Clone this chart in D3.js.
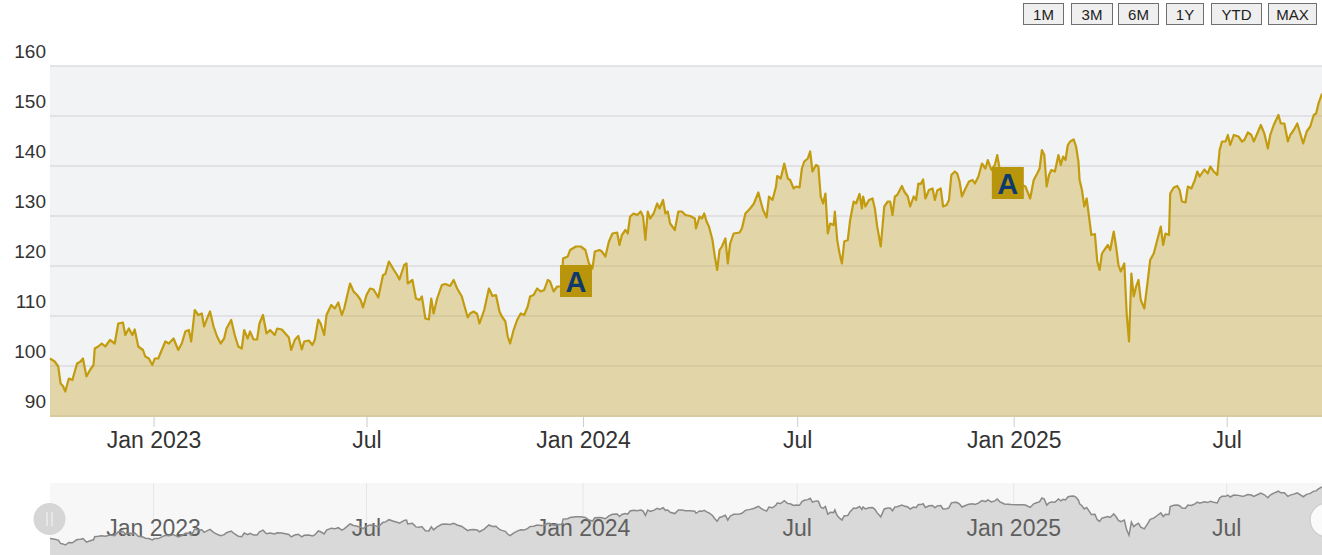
<!DOCTYPE html>
<html>
<head>
<meta charset="utf-8">
<script src="https://cdn.jsdelivr.net/npm/d3@7"></script>
<style>
  html, body { margin: 0; padding: 0; background: #fff; }
  svg { display: block; font-family: "Liberation Sans", Arial, sans-serif; }
</style>
</head>
<body>
<svg id="chart" width="1322" height="555"></svg>
<script>
// price series, one line per month
var dates = [
  "2022-10-05","2022-10-09","2022-10-12","2022-10-14","2022-10-16","2022-10-18","2022-10-21","2022-10-24","2022-10-28","2022-10-31",
  "2022-11-02","2022-11-05","2022-11-08","2022-11-11","2022-11-12","2022-11-15","2022-11-18","2022-11-21","2022-11-25","2022-11-29",
  "2022-12-02","2022-12-06","2022-12-08","2022-12-11","2022-12-14","2022-12-16","2022-12-19","2022-12-23","2022-12-25","2022-12-28","2022-12-31",
  "2023-01-02","2023-01-05","2023-01-08","2023-01-11","2023-01-14","2023-01-18","2023-01-22","2023-01-25","2023-01-28","2023-01-31",
  "2023-02-02","2023-02-05","2023-02-08","2023-02-11","2023-02-13","2023-02-15","2023-02-18","2023-02-21","2023-02-24","2023-02-27",
  "2023-03-02","2023-03-04","2023-03-08","2023-03-11","2023-03-14","2023-03-17","2023-03-19","2023-03-22","2023-03-24","2023-03-27","2023-03-30",
  "2023-04-01","2023-04-04","2023-04-07","2023-04-10","2023-04-14","2023-04-16","2023-04-20","2023-04-23","2023-04-26","2023-04-28",
  "2023-05-01","2023-05-04","2023-05-07","2023-05-09","2023-05-13","2023-05-16","2023-05-18","2023-05-21","2023-05-23","2023-05-26","2023-05-28",
  "2023-06-01","2023-06-04","2023-06-07","2023-06-10","2023-06-12","2023-06-15","2023-06-17","2023-06-20","2023-06-23","2023-06-26","2023-06-28",
  "2023-07-01","2023-07-04","2023-07-07","2023-07-11","2023-07-15","2023-07-17","2023-07-20","2023-07-24","2023-07-27","2023-07-29",
  "2023-08-02","2023-08-04","2023-08-05","2023-08-09","2023-08-12","2023-08-15","2023-08-17","2023-08-20","2023-08-23","2023-08-25","2023-08-27","2023-08-30",
  "2023-09-03","2023-09-06","2023-09-10","2023-09-13","2023-09-16","2023-09-20","2023-09-22","2023-09-25","2023-09-27","2023-09-30",
  "2023-10-03","2023-10-05","2023-10-09","2023-10-13","2023-10-16","2023-10-19","2023-10-22","2023-10-24","2023-10-27","2023-10-29","2023-10-31",
  "2023-11-03","2023-11-06","2023-11-09","2023-11-12","2023-11-15","2023-11-17","2023-11-20","2023-11-23","2023-11-26","2023-11-29",
  "2023-12-02","2023-12-04","2023-12-07","2023-12-10","2023-12-14","2023-12-15","2023-12-19","2023-12-21","2023-12-26","2023-12-30",
  "2024-01-03","2024-01-06","2024-01-09","2024-01-11","2024-01-15","2024-01-17","2024-01-20","2024-01-23","2024-01-26","2024-01-30",
  "2024-02-01","2024-02-03","2024-02-06","2024-02-08","2024-02-10","2024-02-13","2024-02-16","2024-02-19","2024-02-21","2024-02-23","2024-02-25","2024-02-27",
  "2024-03-01","2024-03-04","2024-03-06","2024-03-09","2024-03-11","2024-03-13","2024-03-15","2024-03-19","2024-03-22","2024-03-25","2024-03-28",
  "2024-04-01","2024-04-05","2024-04-06","2024-04-09","2024-04-11","2024-04-13","2024-04-15","2024-04-17","2024-04-20","2024-04-22","2024-04-24","2024-04-26","2024-04-28",
  "2024-05-01","2024-05-03","2024-05-05","2024-05-08","2024-05-13","2024-05-15","2024-05-18","2024-05-22","2024-05-25","2024-05-29","2024-05-31",
  "2024-06-02","2024-06-05","2024-06-07","2024-06-10","2024-06-13","2024-06-14","2024-06-17","2024-06-20","2024-06-23","2024-06-25","2024-06-28","2024-06-30",
  "2024-07-03","2024-07-05","2024-07-07","2024-07-10","2024-07-12","2024-07-14","2024-07-17","2024-07-19","2024-07-21","2024-07-23","2024-07-25","2024-07-27","2024-07-29",
  "2024-08-01","2024-08-02","2024-08-04","2024-08-06","2024-08-08","2024-08-10","2024-08-13","2024-08-15","2024-08-18","2024-08-20","2024-08-23","2024-08-25","2024-08-26","2024-08-28","2024-08-31",
  "2024-09-03","2024-09-05","2024-09-07","2024-09-10","2024-09-13","2024-09-16","2024-09-18","2024-09-20","2024-09-22","2024-09-24","2024-09-28","2024-09-30",
  "2024-10-03","2024-10-05","2024-10-08","2024-10-10","2024-10-12","2024-10-14","2024-10-16","2024-10-18","2024-10-21","2024-10-24","2024-10-26","2024-10-28","2024-10-31",
  "2024-11-02","2024-11-05","2024-11-07","2024-11-09","2024-11-12","2024-11-14","2024-11-16","2024-11-18","2024-11-21","2024-11-24","2024-11-27","2024-11-29",
  "2024-12-02","2024-12-05","2024-12-08","2024-12-10","2024-12-13","2024-12-16","2024-12-18","2024-12-20","2024-12-24","2024-12-30",
  "2025-01-08","2025-01-11","2025-01-15","2025-01-18","2025-01-21","2025-01-23","2025-01-25","2025-01-27","2025-01-29","2025-01-31",
  "2025-02-02","2025-02-05","2025-02-08","2025-02-10","2025-02-12","2025-02-14","2025-02-16","2025-02-18","2025-02-21","2025-02-23","2025-02-25","2025-02-26","2025-02-28",
  "2025-03-02","2025-03-04","2025-03-06","2025-03-08","2025-03-11","2025-03-13","2025-03-15","2025-03-17","2025-03-19","2025-03-22","2025-03-24","2025-03-27","2025-03-29","2025-03-31",
  "2025-04-02","2025-04-05","2025-04-07","2025-04-09","2025-04-11","2025-04-13","2025-04-15","2025-04-17","2025-04-19","2025-04-22","2025-04-25","2025-04-27","2025-04-30",
  "2025-05-03","2025-05-06","2025-05-08","2025-05-10","2025-05-13","2025-05-14","2025-05-17","2025-05-20","2025-05-22","2025-05-24","2025-05-27","2025-05-29",
  "2025-06-01","2025-06-04","2025-06-06","2025-06-08","2025-06-12","2025-06-15","2025-06-17","2025-06-20","2025-06-23","2025-06-25","2025-06-27","2025-06-30",
  "2025-07-02","2025-07-04","2025-07-07","2025-07-11","2025-07-14","2025-07-16","2025-07-19","2025-07-22","2025-07-24","2025-07-27","2025-07-30",
  "2025-08-02","2025-08-05","2025-08-07","2025-08-10","2025-08-14","2025-08-16","2025-08-19","2025-08-22","2025-08-24","2025-08-27","2025-08-30",
  "2025-09-01","2025-09-04","2025-09-07","2025-09-10","2025-09-13","2025-09-15","2025-09-17","2025-09-20"
];
var prices = [
  101.5,100.9,99.9,96.5,96.0,94.9,97.5,97.2,100.5,100.9,
  101.5,97.9,99.2,100.2,103.5,103.9,104.5,103.9,105.2,104.5,
  108.5,108.7,106.2,107.5,106.2,107.3,103.9,103.2,101.9,101.5,100.2,
  101.5,101.5,103.2,104.9,104.5,105.5,103.2,104.5,106.9,107.2,
  104.9,111.2,110.2,110.5,107.9,109.2,110.9,107.9,105.9,104.5,
  105.5,107.5,109.2,106.2,103.9,103.5,107.2,105.5,106.9,105.3,105.3,
  108.5,110.2,106.5,107.2,106.2,107.5,107.3,106.5,105.7,103.2,
  105.2,106.0,103.3,104.9,105.1,104.2,105.2,109.3,108.5,106.2,110.2,
  112.2,111.5,112.7,110.2,111.5,114.5,116.5,114.9,114.2,113.2,111.7,
  114.2,115.5,115.3,113.7,118.2,118.4,120.9,119.3,118.2,117.3,
  120.2,120.5,116.5,117.2,113.5,113.2,113.9,109.5,109.3,113.5,110.5,113.5,
  116.2,116.4,116.0,117.2,115.5,113.9,112.2,109.7,110.5,110.9,
  110.4,108.5,111.2,115.5,114.0,114.2,110.9,109.9,108.9,105.9,104.5,
  107.2,109.2,110.5,110.2,111.9,113.9,114.2,115.5,114.9,115.2,
  117.2,116.9,114.9,115.9,115.9,121.5,121.9,123.2,123.9,123.9,
  123.2,120.5,119.5,122.9,123.2,122.9,121.9,124.9,126.5,126.7,
  124.2,126.2,127.2,126.5,129.9,130.5,130.2,130.9,129.9,125.2,130.9,129.5,
  130.5,132.5,131.5,133.2,130.5,130.9,128.5,127.2,130.9,130.9,130.2,
  130.0,129.5,127.5,129.9,129.5,130.5,128.9,127.9,125.2,121.9,119.2,123.2,123.9,
  125.5,120.5,124.5,126.5,126.7,127.5,130.5,131.5,132.4,134.7,132.9,
  131.2,129.7,133.9,133.2,135.9,138.0,137.5,140.5,137.5,137.2,135.5,135.9,
  135.7,139.5,140.9,141.5,142.9,138.9,140.2,139.9,133.9,132.5,134.5,126.5,128.5,
  128.2,130.9,125.2,122.5,120.5,124.9,125.2,129.2,132.9,132.5,134.4,131.5,133.9,131.9,133.2,
  133.5,131.5,127.9,123.9,131.9,132.9,132.9,130.2,133.9,134.2,136.0,134.9,
  133.9,131.9,133.9,133.2,136.5,136.4,137.3,133.5,135.2,135.5,133.2,135.1,135.5,
  131.9,132.2,133.2,138.2,138.9,138.5,136.9,133.9,135.5,136.9,137.2,136.5,
  137.9,140.5,139.5,141.2,139.2,140.2,142.2,139.5,137.0,136.5,
  136.2,135.9,133.5,137.2,138.5,139.5,143.2,142.2,135.9,138.2,
  139.2,138.9,142.2,140.2,141.9,141.2,144.2,144.9,145.3,143.9,140.9,137.2,135.2,
  131.9,133.5,129.9,126.2,126.4,120.9,119.2,122.5,123.2,124.2,123.2,126.9,123.9,120.2,
  118.9,120.5,110.5,104.9,118.5,113.9,115.9,117.2,113.2,111.5,117.2,121.2,122.5,
  125.2,127.9,124.2,126.5,126.2,134.5,135.7,136.0,135.2,132.9,132.7,135.9,
  135.5,137.2,138.9,137.9,139.3,138.5,139.9,138.9,138.2,143.2,144.9,144.9,
  146.2,144.2,146.2,145.9,144.9,145.2,146.7,146.2,144.9,146.5,148.2,
  146.5,143.5,146.2,148.2,150.2,148.5,148.5,144.9,146.2,147.2,148.5,
  146.9,144.5,146.9,147.9,150.2,150.5,152.5,154.5
];

// "A" flags
var flagDates = ["2023-12-26", "2024-12-27"];
var flagLevels = [117.0, 136.6];
var flagTitles = ["A", "A"];

// axes
var yTicks = [90, 100, 110, 120, 130, 140, 150, 160];
var xTicks = ["2023-01-01", "2023-07-01", "2024-01-01", "2024-07-01", "2025-01-01", "2025-07-01"];

// range selector
var rangeButtons = ["1M", "3M", "6M", "1Y", "YTD", "MAX"];
var buttonLeft = [1023, 1071, 1118, 1166, 1211, 1268];
var buttonWidth = [40, 41, 40, 37, 50, 48];

var plot = {left: 50, right: 1322, top: 66, bottom: 417};
var nav = {top: 483, bottom: 560, lineTop: 487, lineBottom: 545};

var parse = d3.utcParse("%Y-%m-%d");
var series = dates.map(function(d, i) { return {date: parse(d), value: prices[i]}; });
var tickDates = xTicks.map(parse);

var x = d3.scaleUtc()
    .domain(d3.extent(series, function(d) { return d.date; }))
    .range([plot.left, plot.right]);
var y = d3.scaleLinear()
    .domain([yTicks[0], yTicks[yTicks.length - 1]])
    .range([416, plot.top]);

var fmt = function(d) {
  return d.getUTCMonth() === 0 ? d3.utcFormat("%b %Y")(d) : d3.utcFormat("%b")(d);
};

var svg = d3.select("#chart");

// plot background
svg.append("rect")
    .attr("x", plot.left).attr("y", plot.top)
    .attr("width", plot.right - plot.left).attr("height", plot.bottom - plot.top)
    .attr("fill", "#f2f3f5");

// grid
svg.append("g").selectAll("line")
    .data(yTicks).enter().append("line")
    .attr("x1", plot.left).attr("x2", plot.right)
    .attr("y1", function(d) { return y(d); })
    .attr("y2", function(d) { return y(d); })
    .attr("stroke", "#dcdde1")
    .attr("stroke-width", 1.6);

// y labels (sit above the grid line)
svg.append("g").selectAll("text")
    .data(yTicks).enter().append("text")
    .attr("x", 46)
    .attr("y", function(d) { return y(d) - 15; })
    .attr("dy", "0.35em")
    .attr("text-anchor", "end")
    .attr("font-size", "19px")
    .attr("fill", "#333")
    .text(function(d) { return d; });

// area + line
var area = d3.area()
    .x(function(d) { return x(d.date); })
    .y0(plot.bottom)
    .y1(function(d) { return y(d.value); });
var line = d3.line()
    .x(function(d) { return x(d.date); })
    .y(function(d) { return y(d.value); });

svg.append("path")
    .datum(series)
    .attr("d", area)
    .attr("fill", "#c29b0f")
    .attr("fill-opacity", 0.33);

svg.append("path")
    .datum(series)
    .attr("d", line)
    .attr("fill", "none")
    .attr("stroke", "#c29b0f")
    .attr("stroke-width", 2.2)
    .attr("stroke-linejoin", "round");

// x axis
var xAxis = svg.append("g")
    .attr("transform", "translate(0," + plot.bottom + ")")
    .call(d3.axisBottom(x).tickValues(tickDates).tickFormat(fmt).tickSize(10));
xAxis.select(".domain").remove();
xAxis.selectAll(".tick line").attr("stroke", "#cccccc");
xAxis.selectAll(".tick text")
    .attr("y", 31).attr("dy", 0)
    .attr("font-family", "Liberation Sans, Arial, sans-serif")
    .attr("font-size", "23px")
    .attr("fill", "#333");

// flags
svg.append("g").selectAll("g.flag")
    .data(flagDates.map(function(d, i) { return {date: parse(d), level: flagLevels[i], title: flagTitles[i]}; }))
    .enter().append("g")
    .attr("class", "flag")
    .each(function(d) {
      var g = d3.select(this);
      var cx = x(d.date), cy = y(d.level);
      g.append("rect")
          .attr("x", cx - 16).attr("y", cy - 16)
          .attr("width", 32).attr("height", 32)
          .attr("fill", "#b8950b");
      g.append("text")
          .attr("x", cx).attr("y", cy + 11)
          .attr("text-anchor", "middle")
          .attr("font-size", "29px")
          .attr("font-weight", "bold")
          .attr("fill", "#0d3a6c")
          .text(d.title);
    });

// range selector buttons
var btn = svg.append("g").selectAll("g")
    .data(rangeButtons).enter().append("g");
btn.append("rect")
    .attr("x", function(d, i) { return buttonLeft[i] + 0.5; })
    .attr("y", 3.5)
    .attr("width", function(d, i) { return buttonWidth[i]; })
    .attr("height", 21)
    .attr("fill", "#efefef")
    .attr("stroke", "#6f6f6f");
btn.append("text")
    .attr("x", function(d, i) { return buttonLeft[i] + buttonWidth[i] / 2 + 0.5; })
    .attr("y", 19.5)
    .attr("text-anchor", "middle")
    .attr("font-size", "15px")
    .attr("fill", "#222")
    .text(function(d) { return d; });

// navigator
var ny = d3.scaleLinear()
    .domain(d3.extent(prices))
    .range([nav.lineBottom, nav.lineTop]);

svg.append("rect")
    .attr("x", plot.left).attr("y", nav.top)
    .attr("width", plot.right - plot.left).attr("height", nav.bottom - nav.top)
    .attr("fill", "#f7f7f7");

svg.append("g").selectAll("line")
    .data(tickDates).enter().append("line")
    .attr("x1", function(d) { return x(d); })
    .attr("x2", function(d) { return x(d); })
    .attr("y1", nav.top).attr("y2", nav.bottom)
    .attr("stroke", "#e6e6e6");

svg.append("path")
    .datum(series)
    .attr("d", d3.area()
        .x(function(d) { return x(d.date); })
        .y0(nav.bottom)
        .y1(function(d) { return ny(d.value); }))
    .attr("fill", "#d9d9d9");

svg.append("g").selectAll("text")
    .data(tickDates).enter().append("text")
    .attr("x", function(d) { return x(d); })
    .attr("y", 536)
    .attr("text-anchor", "middle")
    .attr("font-size", "23px")
    .attr("fill", "#5f5f5f")
    .text(fmt);

svg.append("path")
    .datum(series)
    .attr("d", d3.line()
        .x(function(d) { return x(d.date); })
        .y(function(d) { return ny(d.value); }))
    .attr("fill", "none")
    .attr("stroke", "#8a8a8a")
    .attr("stroke-width", 1.5);

// handles
var hl = svg.append("g").attr("transform", "translate(49.5,519)");
hl.append("circle").attr("r", 16).attr("fill", "#d6d6d6");
hl.append("line").attr("x1", -2.5).attr("x2", -2.5).attr("y1", -7).attr("y2", 7).attr("stroke", "#f2f2f2").attr("stroke-width", 1.2);
hl.append("line").attr("x1", 2.5).attr("x2", 2.5).attr("y1", -7).attr("y2", 7).attr("stroke", "#f2f2f2").attr("stroke-width", 1.2);

svg.append("circle")
    .attr("cx", 1327).attr("cy", 520).attr("r", 17)
    .attr("fill", "#fafafa")
    .attr("stroke", "#cfcfcf")
    .attr("stroke-width", 1.5);
</script>
</body>
</html>
